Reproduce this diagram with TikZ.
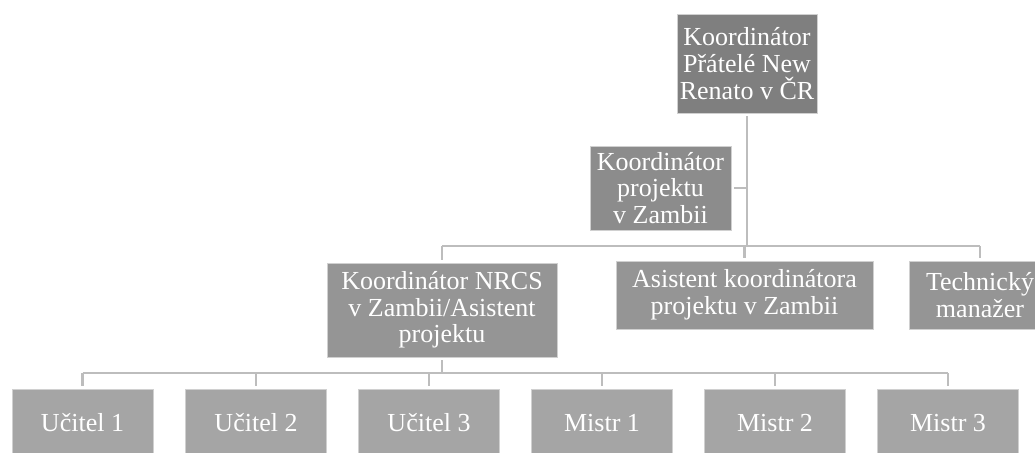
\documentclass[tikz,border=0pt]{standalone}
\usepackage{fontspec}
\setmainfont{Liberation Serif}
\usepackage{tikz}
\usetikzlibrary{positioning}
\definecolor{topgray}{HTML}{7F7F7F}
\definecolor{projgray}{HTML}{8C8C8C}
\definecolor{midgray}{HTML}{959595}
\definecolor{lowgray}{HTML}{A5A5A5}
\definecolor{linegray}{HTML}{BDBDBD}
\definecolor{edgegray}{HTML}{D0D0D0}
\tikzset{
  box/.style={draw=edgegray, line width=0.6pt, text=white, inner sep=0pt, outer sep=3pt,
    align=center, font=\fontsize{26}{26.7}\selectfont},
  low/.style={box, fill=lowgray, minimum width=141pt, minimum height=68pt},
  link/.style={draw=linegray, line width=2.8pt}}

\begin{document}
\begin{tikzpicture}[x=1pt,y=-1pt]
\useasboundingbox (0,0) rectangle (1035,452);
\clip (0,0) rectangle (1035,452);
% boxes
\node[box, fill=topgray, minimum width=140pt, minimum height=99pt] (top) at (747,63.5) {Koordinátor\\Přátelé New\\Renato v ČR};
\node[box, fill=projgray, minimum width=141pt, minimum height=84pt] (proj) at (660.5,188) {Koordinátor\\projektu\\v Zambii};
\node[box, fill=midgray, minimum width=230pt, minimum height=94pt] (nrcs) at (442,310) {Koordinátor NRCS\\v Zambii/Asistent\\projektu};
\node[box, fill=midgray, minimum width=257pt, minimum height=68pt] (asist) at (744.5,295) {Asistent koordinátora\\projektu v Zambii};
\node[box, fill=midgray, minimum width=142pt, minimum height=68pt] (tech) at (980,295) {Technický\\manažer};
\foreach \n/\x/\t in {uc1/82.5/Učitel 1, uc2/256/Učitel 2, uc3/429/Učitel 3,
    mi1/602/Mistr 1, mi2/775/Mistr 2, mi3/948/Mistr 3}
  \node[low] (\n) at (\x,423) {\t};
% connectors
\coordinate (bus1) at (0,246);
\coordinate (bus2) at (0,373);
\draw[link] (top.south) -- (top.south |- bus1);
\draw[link] (proj.east) -- (proj.east -| top.south);
\draw[link] (nrcs.north |- bus1) -- (tech.north |- bus1);
\foreach \n in {nrcs,asist,tech}
  \draw[link] (\n.north |- bus1) -- (\n.north);
\draw[link] (nrcs.south) -- (nrcs.south |- bus2);
\draw[link] (uc1.north |- bus2) -- (mi3.north |- bus2);
\foreach \n in {uc1,uc2,uc3,mi1,mi2,mi3}
  \draw[link] (\n.north |- bus2) -- (\n.north);
\end{tikzpicture}
\end{document}
